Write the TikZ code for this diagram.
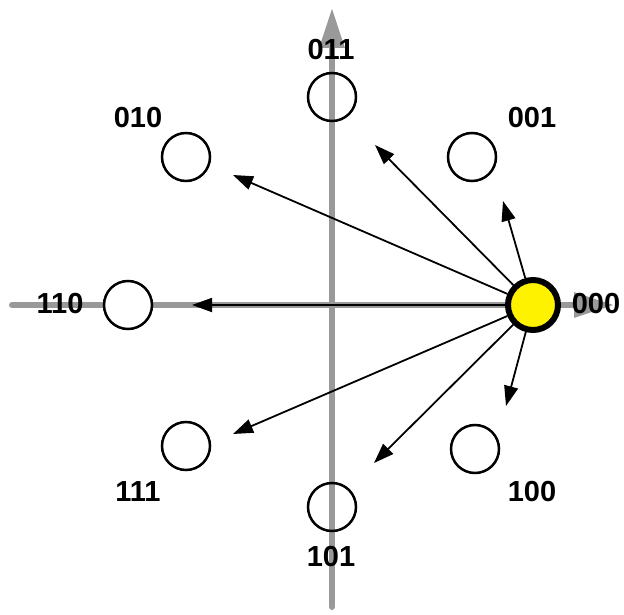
\documentclass[tikz,border=0pt]{standalone}
\usepackage{fontspec}
\setmainfont{Liberation Sans}
\usetikzlibrary{arrows.meta}

\begin{document}
\begin{tikzpicture}[
    x=1pt, y=-1pt,
    axis/.style={line width=6pt, black!40, line cap=round, -{Triangle[length=40pt, width=24pt]}},
    state/.style={circle, draw, line width=2.5pt, minimum size=48pt, inner sep=0pt},
    startstate/.style={state, fill=yellow, line width=6pt, minimum size=50pt},
    bits/.style={font=\fontsize{29}{31}\selectfont\bfseries, inner sep=0pt},
    jump/.style={-{Triangle[length=20pt, width=14pt]}, line width=1.8pt}
]
\useasboundingbox (0,0) rectangle (624,615);

% Axes (gray, drawn first so everything sits on top)
\coordinate (xl) at (12,305);
\coordinate (xr) at (614,305);
\coordinate (yb) at (332,607);
\coordinate (yt) at (332,8);
\draw[axis] (xl) -- (xr);
\draw[axis] (yb) -- (yt);

% States on the circle
\node[state] (s011) at (332,97) {};
\node[state] (s001) at (472,157) {};
\node[state] (s010) at (186,157) {};
\node[state, fill=white] (s110) at (128,305) {};
\node[state] (s100) at (475,449) {};
\node[state] (s111) at (186,446) {};
\node[state] (s101) at (332,507) {};

% Current state - yellow
\node[startstate] (s000) at (533,305) {};

% Labels
\node[bits] (l011) at (331,50) {011};
\node[bits] (l001) at (532,118) {001};
\node[bits] (l010) at (138,118) {010};
\node[bits] (l110) at (60,304) {110};
\node[bits] (l000) at (596,304) {000};
\node[bits] (l100) at (532,492) {100};
\node[bits] (l111) at (138,492) {111};
\node[bits] (l101) at (331,557) {101};

% Arrow ends (stop short of the targets)
\coordinate (t110) at (192,305);
\coordinate (t010) at (233,175);
\coordinate (t011) at (375,145);
\coordinate (t001) at (503,201);
\coordinate (t100) at (506,406);
\coordinate (t101) at (374,463);
\coordinate (t111) at (233,434);

% Transitions from 000
\foreach \t in {110,010,011,001,100,101,111} {
    \draw[jump] (s000) -- (t\t);
}

\end{tikzpicture}
\end{document}
